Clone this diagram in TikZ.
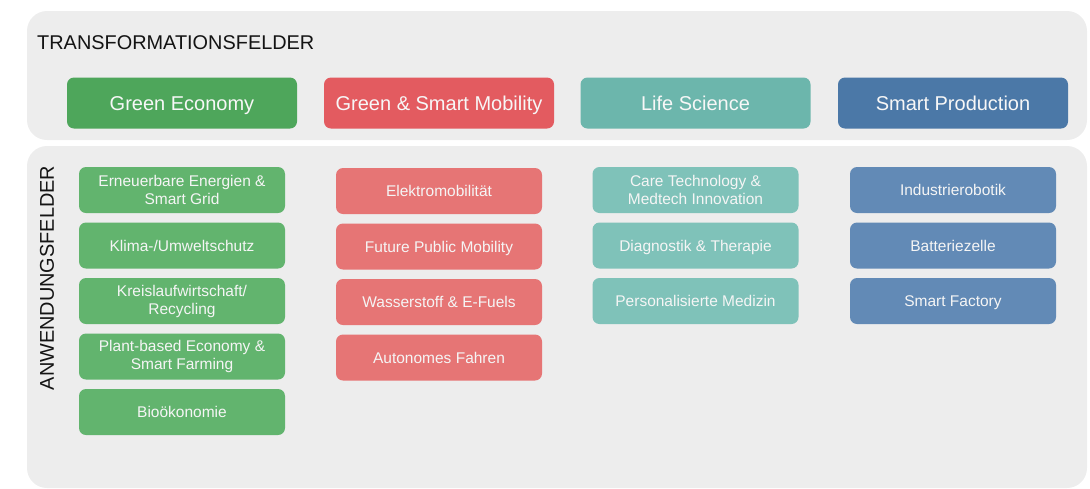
\documentclass[tikz,border=0pt]{standalone}
\usepackage{fontspec}
\setmainfont{Liberation Sans}
\usepackage{tikz}
\usetikzlibrary{positioning}

\definecolor{panelgray}{HTML}{EDEDED}
\definecolor{geHead}{HTML}{4EA65B}
\definecolor{geSub}{HTML}{62B46E}
\definecolor{gmHead}{HTML}{E35B60}
\definecolor{gmSub}{HTML}{E67575}
\definecolor{lsHead}{HTML}{6CB6AC}
\definecolor{lsSub}{HTML}{7FC2B9}
\definecolor{spHead}{HTML}{4B78A7}
\definecolor{spSub}{HTML}{628AB6}

\begin{document}
\begin{tikzpicture}[x=1pt,y=-1pt]
\tikzstyle{panel} = [fill=panelgray,rounded corners=20pt]
\tikzstyle{head} = [rounded corners=7pt,minimum width=230pt,minimum height=51pt,text height=14.3pt,text depth=0pt,text=white!94!gray,font=\fontsize{20}{24}\selectfont]
\tikzstyle{sub} = [rounded corners=7pt,minimum width=206pt,minimum height=46pt,text height=11.1pt,text depth=0pt,text=white!92!gray,font=\fontsize{15.5}{18}\selectfont,node distance=55.5pt]
\tikzstyle{subtwo} = [sub,text height=,text depth=,align=center]
\tikzstyle{caption} = [inner sep=0pt,font=\fontsize{19.9}{22}\selectfont,text=black!92]

\useasboundingbox (0,0) rectangle (1090,488);

% panels
\fill[panel] (27,11) rectangle (1087,140);
\fill[panel] (27,146) rectangle (1087,488);

\node[caption,anchor=west] (tf) at (37,43) {TRANSFORMATIONSFELDER};
\node[caption,rotate=90] (af) at (47,278) {ANWENDUNGSFELDER};

% transformation fields
\node[head,fill=geHead] (ge) at (182,103) {Green Economy};
\node[head,fill=gmHead] (gm) at (439,103) {Green \& Smart Mobility};
\node[head,fill=lsHead] (ls) at (695.5,103) {Life Science};
\node[head,fill=spHead] (sp) at (953,103) {Smart Production};

% green economy
\node[subtwo,fill=geSub,below of=ge,node distance=87pt] (ge1) {Erneuerbare Energien \&\\Smart Grid};
\node[sub,fill=geSub,below of=ge1] (ge2) {Klima-/Umweltschutz};
\node[subtwo,fill=geSub,below of=ge2] (ge3) {Kreislaufwirtschaft/\\Recycling};
\node[subtwo,fill=geSub,below of=ge3] (ge4) {Plant-based Economy \&\\Smart Farming};
\node[sub,fill=geSub,below of=ge4] (ge5) {Bioökonomie};

% green & smart mobility
\node[sub,fill=gmSub,below of=gm,node distance=88pt] (gm1) {Elektromobilität};
\node[sub,fill=gmSub,below of=gm1] (gm2) {Future Public Mobility};
\node[sub,fill=gmSub,below of=gm2] (gm3) {Wasserstoff \& E-Fuels};
\node[sub,fill=gmSub,below of=gm3] (gm4) {Autonomes Fahren};

% life science
\node[subtwo,fill=lsSub,below of=ls,node distance=87pt] (ls1) {Care Technology \&\\Medtech Innovation};
\node[sub,fill=lsSub,below of=ls1] (ls2) {Diagnostik \& Therapie};
\node[sub,fill=lsSub,below of=ls2] (ls3) {Personalisierte Medizin};

% smart production
\node[sub,fill=spSub,below of=sp,node distance=87pt] (sp1) {Industrierobotik};
\node[sub,fill=spSub,below of=sp1] (sp2) {Batteriezelle};
\node[sub,fill=spSub,below of=sp2] (sp3) {Smart Factory};

\end{tikzpicture}
\end{document}
